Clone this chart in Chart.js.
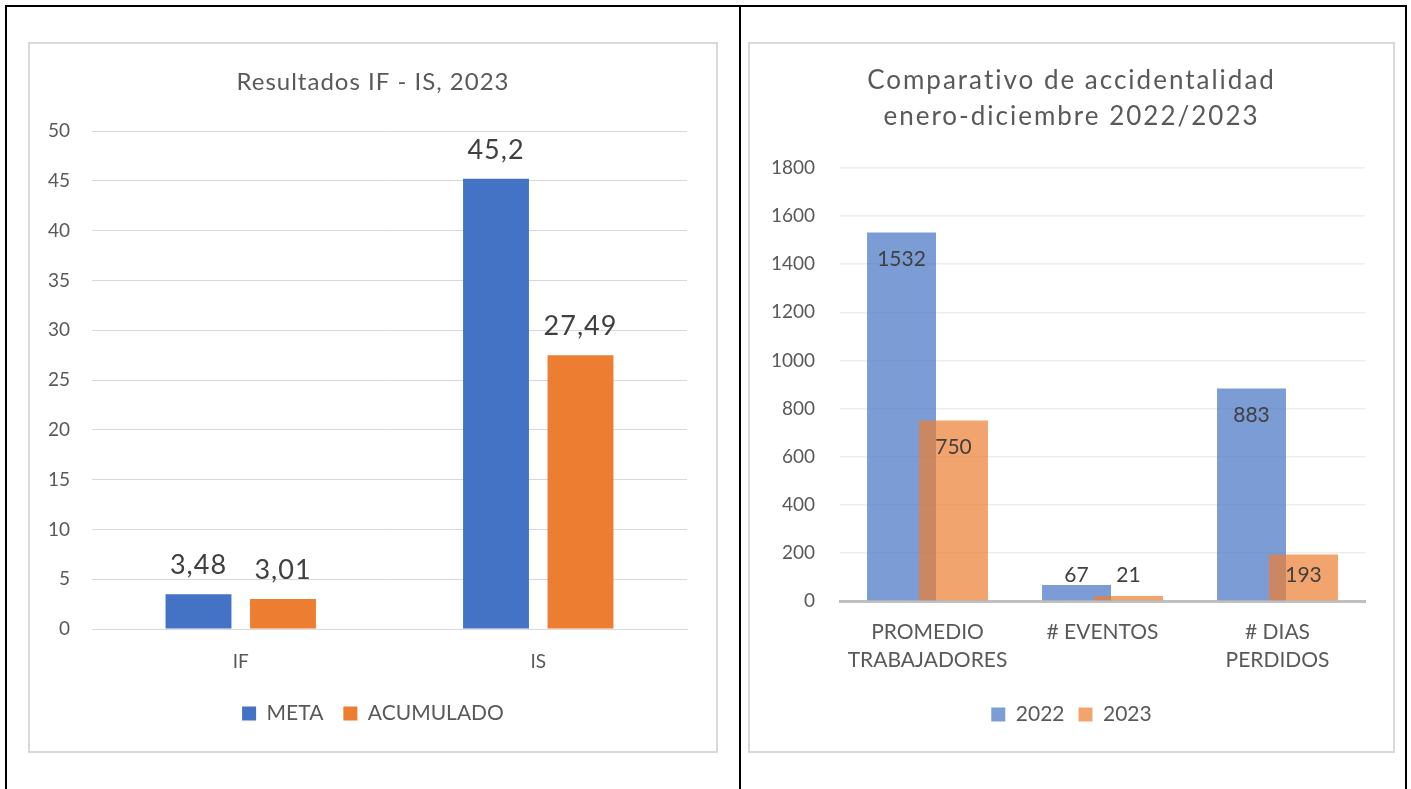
<!DOCTYPE html>
<html>
<head>
<meta charset="utf-8">
<script src="https://cdn.jsdelivr.net/npm/chart.js@4/dist/chart.umd.min.js"></script>
<style>
  html, body { margin: 0; padding: 0; background: #fff; }
  #page { position: relative; width: 1411px; height: 789px; overflow: hidden; }
  .rule { position: absolute; background: #000; }
  .box { position: absolute; border: 2px solid #d9d9d9; box-sizing: border-box; background: #fff; }
  .box canvas { position: absolute; left: 0; top: 0; }
</style>
</head>
<body>
<div id="page">
  <div class="rule" style="left:5px; top:5px; width:1402px; height:2px;"></div>
  <div class="rule" style="left:5px; top:5px; width:2px; height:784px;"></div>
  <div class="rule" style="left:739px; top:5px; width:2px; height:784px;"></div>
  <div class="rule" style="left:1405px; top:5px; width:2px; height:784px;"></div>

  <div class="box" style="left:28px; top:42px; width:690px; height:711px;">
    <canvas id="chartIndices" width="686" height="707"></canvas>
  </div>
  <div class="box" style="left:748px; top:42px; width:647px; height:711px;">
    <canvas id="chartAccidentes" width="643" height="707"></canvas>
  </div>
</div>

<script>
// Resultados IF - IS
const indicadores = ['IF', 'IS'];
const meta = [3.48, 45.2];
const acumulado = [3.01, 27.49];
const ticksIndices = [0, 5, 10, 15, 20, 25, 30, 35, 40, 45, 50];

// Comparativo de accidentalidad
const conceptos = [['PROMEDIO', 'TRABAJADORES'], '# EVENTOS', ['# DIAS', 'PERDIDOS']];
const valores2022 = [1532, 67, 883];
const valores2023 = [750, 21, 193];
const ticksAccidentes = [0, 200, 400, 600, 800, 1000, 1200, 1400, 1600, 1800];

Chart.defaults.font.family = 'Lato, "Open Sans", sans-serif';
Chart.defaults.color = '#595959';
Chart.defaults.animation = false;

// value labels above / inside the bars
const barLabels = {
  id: 'barLabels',
  afterDraw(chart, args, opts) {
    const ctx = chart.ctx;
    ctx.save();
    ctx.font = opts.size + 'px ' + Chart.defaults.font.family;
    ctx.letterSpacing = opts.spacing || '0px';
    ctx.fillStyle = '#404040';
    ctx.textAlign = 'center';
    chart.data.datasets.forEach((ds, i) => {
      chart.getDatasetMeta(i).data.forEach((bar, j) => {
        let text = String(ds.data[j]);
        if (opts.comma) text = text.replace('.', ',');
        let y;
        if (opts.inside) {
          ctx.textBaseline = 'middle';
          y = Math.min(bar.y + opts.offset, bar.base - opts.floor);
        } else {
          ctx.textBaseline = 'alphabetic';
          y = bar.y - opts.offset;
        }
        ctx.fillText(text, bar.x, y);
      });
    });
    ctx.letterSpacing = '0px';
    ctx.restore();
  }
};

// wider character spacing for the title
const spacedTitle = {
  id: 'spacedTitle',
  afterInit(chart, args, opts) {
    const tb = chart.titleBlock;
    if (!tb) return;
    const draw = tb.draw.bind(tb);
    tb.draw = function (area) {
      chart.ctx.letterSpacing = opts.spacing;
      draw(area);
      chart.ctx.letterSpacing = '0px';
    };
  }
};

// paint datasets first-to-last so the later series sits on top where bars overlap
const forwardDraw = {
  id: 'forwardDraw',
  beforeDatasetsDraw(chart) {
    chart.data.datasets.forEach((ds, i) => chart.getDatasetMeta(i).controller.draw());
    return false;
  }
};

// empty right-hand axis that only keeps a margin beside the plot
const rightGap = w => ({
  position: 'right',
  grid: { display: false },
  border: { display: false },
  ticks: { display: false },
  afterFit(s) { s.width = w; }
});

new Chart(document.getElementById('chartIndices'), {
  type: 'bar',
  data: {
    labels: indicadores,
    datasets: [
      { label: 'META', data: meta, backgroundColor: '#4472c4', categoryPercentage: 0.568, barPercentage: 0.78 },
      { label: 'ACUMULADO', data: acumulado, backgroundColor: '#ed7d31', categoryPercentage: 0.568, barPercentage: 0.78 }
    ]
  },
  options: {
    responsive: false,
    layout: { padding: { top: 0, right: 0, bottom: 17, left: 0 } },
    plugins: {
      title: {
        display: true,
        text: 'Resultados IF - IS, 2023',
        color: '#595959',
        font: { size: 24, weight: 'normal', lineHeight: 1.2 },
        padding: { top: 23.6, bottom: 34.6 }
      },
      spacedTitle: { spacing: '1px' },
      legend: {
        position: 'bottom',
        labels: { boxWidth: 14, boxHeight: 14, padding: 20, font: { size: 21 }, color: '#595959' }
      },
      tooltip: { enabled: false },
      barLabels: { size: 27, spacing: '1px', offset: 20, comma: true, inside: false }
    },
    scales: {
      x: {
        grid: { display: false },
        border: { display: true, color: '#d9d9d9', width: 1 },
        ticks: { padding: 13, font: { size: 19 }, color: '#595959' },
        afterFit(s) { s.height = 54; }
      },
      y: {
        min: 0,
        max: 50,
        afterBuildTicks(s) { s.ticks = ticksIndices.map(v => ({ value: v })); },
        grid: { color: '#d9d9d9', drawTicks: false },
        border: { display: false },
        ticks: { padding: 22, font: { size: 19 }, color: '#595959' },
        afterFit(s) { s.width = 62; }
      },
      gap: rightGap(29)
    }
  },
  plugins: [barLabels, spacedTitle]
});

new Chart(document.getElementById('chartAccidentes'), {
  type: 'bar',
  data: {
    labels: conceptos,
    datasets: [
      { label: '2022', data: valores2022, backgroundColor: 'rgba(68,114,196,0.7)', categoryPercentage: 0.594, barPercentage: 1.327 },
      { label: '2023', data: valores2023, backgroundColor: 'rgba(237,125,49,0.7)', categoryPercentage: 0.594, barPercentage: 1.327 }
    ]
  },
  options: {
    responsive: false,
    layout: { padding: { top: 0, right: 0, bottom: 16, left: 0 } },
    plugins: {
      title: {
        display: true,
        text: ['Comparativo de accidentalidad', 'enero-diciembre 2022/2023'],
        color: '#595959',
        font: { size: 26, weight: 'normal', lineHeight: 1.385 },
        padding: { top: 19, bottom: 33 }
      },
      spacedTitle: { spacing: '2px' },
      legend: {
        position: 'bottom',
        labels: { boxWidth: 14, boxHeight: 14, padding: 14, font: { size: 21 }, color: '#595959' }
      },
      tooltip: { enabled: false },
      barLabels: { size: 21, offset: 27, floor: 25, comma: false, inside: true }
    },
    scales: {
      x: {
        grid: { display: false },
        border: { display: true, color: '#bfbfbf', width: 3 },
        ticks: { padding: 9, font: { size: 21, lineHeight: 1.33 }, color: '#595959' },
        afterFit(s) { s.height = 89; }
      },
      y: {
        min: 0,
        max: 1800,
        afterBuildTicks(s) { s.ticks = ticksAccidentes.map(v => ({ value: v })); },
        grid: { color: '#eeeeee', lineWidth: 1.5, drawTicks: false },
        border: { display: false },
        ticks: { padding: 25, font: { size: 19 }, color: '#595959', callback: v => String(v) },
        afterFit(s) { s.width = 90; }
      },
      gap: rightGap(28)
    }
  },
  plugins: [forwardDraw, barLabels, spacedTitle]
});
</script>
</body>
</html>
